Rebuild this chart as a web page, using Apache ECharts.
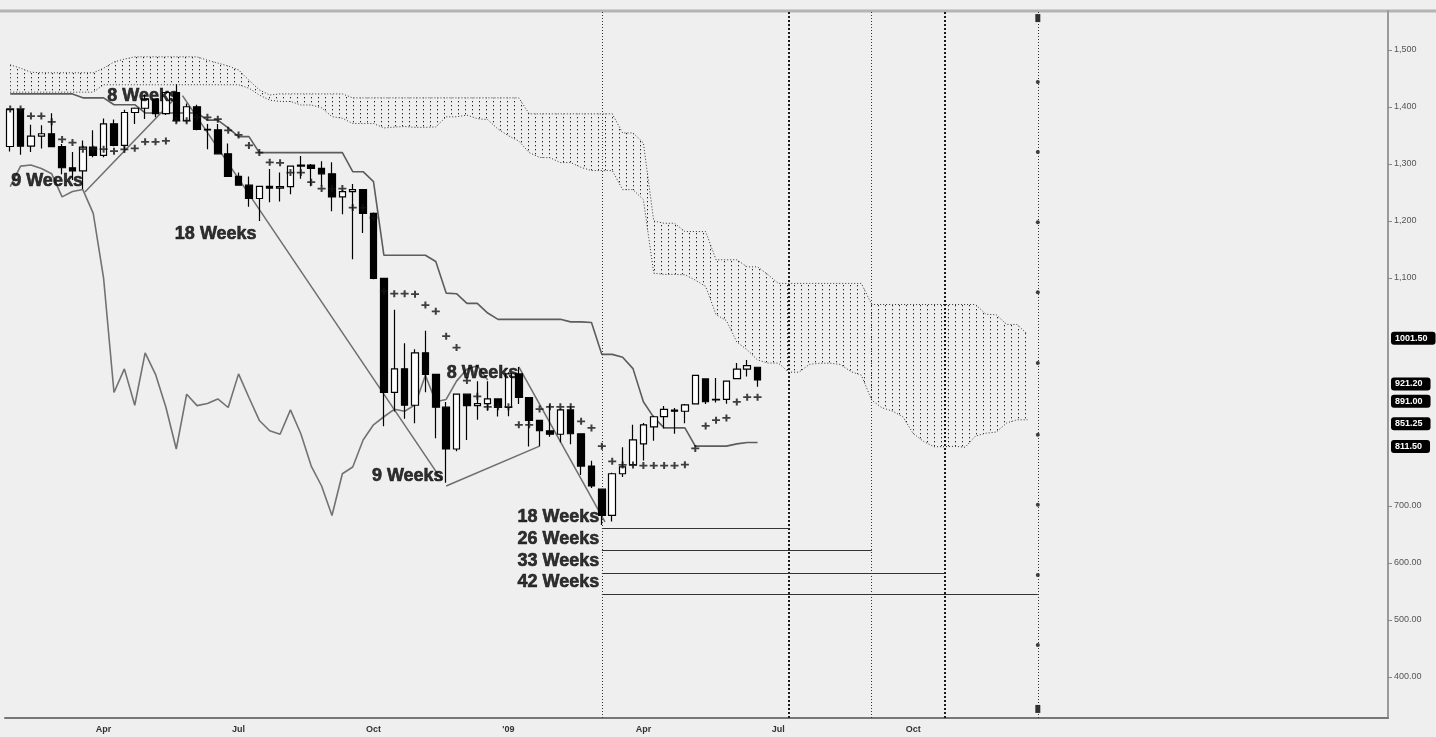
<!DOCTYPE html>
<html>
<head>
<meta charset="utf-8">
<script src="https://cdn.jsdelivr.net/npm/echarts@6/dist/echarts.min.js"></script>
<style>
html,body{margin:0;padding:0;background:#efefef;}
#c{width:1436px;height:737px;}
</style>
</head>
<body>
<div id="c"></div>
<script>
// ---- weekly candles, week 0 = week of 28 Jan 2008 ----
const opens = [1330.7,1395.4,1331.3,1349.0,1353.1,1330.6,1293.4,1288.1,1329.5,1315.2,
1370.4,1332.8,1390.3,1397.8,1413.9,1388.3,1425.4,1375.9,1400.4,1360.7,
1360.0,1317.9,1278.4,1262.9,1239.5,1260.7,1257.8,1260.3,1296.3,1298.2,
1292.2,1282.8,1242.3,1251.7,1255.1,1213.3,1099.2,899.2,940.6,876.8,
968.8,931.0,873.3,800.0,896.2,876.1,879.7,887.9,872.8,931.8,
890.4,850.1,832.0,825.9,868.6,826.8,770.0,729.6,683.4,756.6,
772.2,809.1,839.0,856.9,868.3,866.2,879.2,922.9,886.0,887.0,
923.3,940.1,943.4];
const highs = [1396.0,1396.0,1369.0,1368.0,1389.0,1335.0,1321.0,1341.0,1359.0,1380.0,
1378.0,1395.0,1399.0,1422.0,1415.0,1426.2,1440.0,1406.0,1404.0,1370.0,
1370.0,1336.0,1285.0,1278.0,1262.0,1291.0,1285.0,1297.0,1314.0,1300.0,
1305.0,1303.0,1255.0,1265.0,1256.0,1215.0,1099.2,1044.3,985.4,975.0,
1007.5,932.0,882.3,896.2,897.0,918.9,918.9,887.9,934.7,943.9,
890.4,851.0,877.9,870.6,875.0,827.0,779.4,729.6,758.3,803.0,
842.6,845.6,858.3,875.6,871.8,878.9,930.2,922.9,924.6,920.0,
951.0,956.2,943.4];
const lows = [1322.0,1316.0,1321.0,1327.0,1330.0,1282.0,1272.0,1256.0,1312.0,1312.0,
1331.0,1324.0,1370.0,1379.0,1382.0,1386.0,1373.0,1373.0,1359.0,1326.0,
1317.0,1278.0,1262.0,1225.0,1200.0,1233.0,1234.0,1247.0,1274.0,1261.0,
1262.0,1217.0,1212.0,1133.0,1179.0,1098.0,839.8,866.0,852.9,845.3,
899.7,818.7,741.0,796.0,815.7,851.4,867.0,857.1,857.3,878.8,
804.3,804.7,821.7,812.0,808.2,754.3,731.7,666.8,672.9,751.0,
772.0,779.8,814.5,836.0,826.8,845.1,878.9,878.9,881.6,879.6,
923.3,927.1,909.0];
const closes = [1395.4,1331.3,1349.0,1353.1,1330.6,1293.4,1288.1,1329.5,1315.2,1370.4,
1332.8,1390.3,1397.8,1413.9,1388.3,1425.4,1375.9,1400.4,1360.7,1360.0,
1317.9,1278.4,1262.9,1239.5,1260.7,1257.8,1260.3,1296.3,1298.2,1292.2,
1282.8,1242.3,1251.7,1255.1,1213.3,1099.2,899.2,940.6,876.8,968.8,
931.0,873.3,800.0,896.2,876.1,879.7,887.9,872.8,931.8,890.4,
850.1,832.0,825.9,868.6,826.8,770.0,735.1,683.4,756.6,768.5,
815.9,842.5,856.6,869.6,866.2,877.5,929.2,882.9,887.0,919.1,
940.1,946.2,921.2];

// ---- Ichimoku lines ----
const tenkan = [1396.5,1396.5,1384,1384,1374,1343,1337.5,1326,1326,1326,
1322.5,1325.5,1327.5,1339,1339,1340.5,1376,1376,1382,1382,
1378.5,1359,1351,1332.5,1320,1303,1302,1285,1285,1268,
1257,1257,1257,1223.5,1223.5,1206,1077,1072.5,1072.5,1071.5,
1052.5,1041.5,998,978,920,892.5,874,874,874,842.5,
842.5,870,874,874,874,848.5,837,805,778.5,772,
772,771,771,771,771,772.5,801,840.5,850.5,854.5,
882.5,891,891];
const kijun = [1423,1423,1423,1423,1423,1423,1423,1416,1416,1416,
1404,1404,1404,1389.5,1389.5,1389.5,1389.5,1389.5,1389.5,1377,
1377,1363.5,1348,1348,1320,1320,1320,1320,1320,1320,
1320,1320,1320,1286.5,1286.5,1269,1140,1140,1140,1140,
1140,1129,1073.5,1072.5,1055.5,1055.5,1038.5,1027.5,1027.5,1027.5,
1027.5,1027.5,1027.5,1027.5,1023,1023,1022,966,966,961,
941,883,855.5,837,837,837,805,805,805,805,
809,811.5,811.5];
const spanA = [1426,1426,1426,1426,1426,1426,1426,1426,1426,1439,
1439,1439,1439,1439,1439,1439,1439,1439,1439,1439,
1439,1439,1439,1433,1421,1412,1409.75,1409.75,1403.5,1403.5,
1398.5,1383,1380.25,1371,1371,1371,1363.25,1364.75,1365.75,1364.25,
1364.25,1365,1382.75,1382.75,1385.75,1379.5,1377.75,1361.25,1349.5,1340.25,
1320,1311.5,1311,1302.5,1302.5,1294,1288.5,1288.5,1288.5,1255,
1255,1237.5,1108.5,1106.25,1106.25,1105.75,1096.25,1085.25,1035.75,1025.25,
987.75,974,956.25,950.75,950.75,934.75,934.75,948.5,950.5,950.5,
948.25,935.75,929.5,885.5,872.25,866.5,856.5,827,813.25,804,
804,804.75,803,822.75,827.75,829.75,845.75,851.25,851.25];
const spanB = [1474,1468,1461,1460,1460,1460,1460,1460,1460,1468,
1479,1484,1488,1488,1488,1488,1488,1488,1488,1482,
1477,1472,1465,1447,1430,1421,1423,1423,1423,1423,
1423,1423,1423,1416,1416,1416,1416,1416,1416,1416,
1416,1416,1416,1416,1416,1416,1416,1416,1416,1416,
1388,1388,1388,1388,1388,1388,1388,1388,1388,1354.5,
1354.5,1337,1200,1196,1196,1181.5,1181.5,1181.5,1132,1132,
1132,1119.5,1119.5,1106,1090.5,1090.5,1090.5,1090.5,1090.5,1090.5,
1090.5,1090.5,1090.5,1053.5,1053.5,1053.5,1053.5,1053.5,1053.5,1053.5,
1053.5,1053.5,1053.5,1053.5,1036.5,1035.5,1018.5,1018.5,1001.5];
const chikouShift = 26;

// ---- axis labels ----
const quarterTicks = [9,22,35,48,61,74,87];
const quarterLabels = ['Apr','Jul','Oct',"'09",'Apr','Jul','Oct'];
const priceLabels = [400,500,600,700,1100,1200,1300,1400,1500];

// ---- cycle annotations ----
const lowIdx = 57;
const cycleWeeks = [18,26,33,42];
const cycleLevels = [661.5,623,582.6,545.6];
const cycleDots = [1444,1321,1198,1075,951,825,702,579,456];
const cycleEnds = [1556,344];
const trendLines = [
  [[7.2,1251],[15.7,1412]],
  [[16.6,1420],[41.6,745]],
  [[42.0,735],[51.0,805]],
  [[49.0,944],[57.3,672]]
];
const annotations = [
  [12.8,1419,'8 Weeks','center'],
  [3.55,1270,'9 Weeks','center'],
  [19.8,1177,'18 Weeks','center'],
  [45.5,933,'8 Weeks','center'],
  [38.3,753,'9 Weeks','center'],
  [56.8,681,'18 Weeks','right'],
  [56.8,642,'26 Weeks','right'],
  [56.8,604,'33 Weeks','right'],
  [56.8,567,'42 Weeks','right']
];

// ---- build ----
const font = "'Liberation Sans', Arial, sans-serif";
const pat = document.createElement('canvas');
pat.width = 7; pat.height = 4;
const pctx = pat.getContext('2d');
pctx.fillStyle = 'rgba(20,20,20,0.95)';
pctx.fillRect(3,1,1,1.3);

const last = a => a[a.length-1];
const boxValues = [last(spanB), last(closes), last(tenkan), last(spanA), last(kijun)];

function fmtPrice(v){
  if (v >= 1000) { const r = Math.round(v); return Math.floor(r/1000) + ',' + String(r%1000).padStart(3,'0'); }
  return v.toFixed(2);
}

const vStyleThin = {type:[1,2], width:1, color:'#333'};
const vStyleBold = {type:[2,2], width:2, color:'#1a1a1a'};
const markLines = [
  {xAxis: lowIdx, lineStyle: vStyleThin},
  {xAxis: lowIdx+cycleWeeks[0], lineStyle: vStyleBold},
  {xAxis: lowIdx+cycleWeeks[1], lineStyle: vStyleThin},
  {xAxis: lowIdx+cycleWeeks[2], lineStyle: vStyleBold},
  {xAxis: lowIdx+cycleWeeks[3], lineStyle: vStyleThin}
];
cycleWeeks.forEach((w,k)=>{
  markLines.push([{coord:[lowIdx, cycleLevels[k]], lineStyle:{type:'solid', width:1, color:'#333'}},{coord:[lowIdx+w, cycleLevels[k]]}]);
});
trendLines.forEach(t=>{
  markLines.push([{coord:t[0], lineStyle:{type:'solid', width:1.5, color:'#6e6e6e'}},{coord:t[1]}]);
});

const labelStyle = {show:true, fontSize:18, fontWeight:'bold', color:'#000', fontFamily:font, textBorderColor:'#000', textBorderWidth:0.6};

const chart = echarts.init(document.getElementById('c'), null, {renderer:'canvas'});
chart.setOption({
  animation:false,
  backgroundColor:'#efefef',
  textStyle:{fontFamily:font},
  graphic:[{type:'line', shape:{x1:0,y1:11,x2:1436,y2:11}, style:{stroke:'#b4b4b4', lineWidth:3}, z:-1}],
  grid:{left:5,right:48,top:11,bottom:19},
  xAxis:{
    type:'value', min:-0.501, max:132.736,
    axisLine:{show:true, onZero:false, lineStyle:{color:'#777', width:2}},
    axisTick:{show:false}, splitLine:{show:false},
    axisLabel:{customValues:quarterTicks, formatter:v=>{const k=quarterTicks.indexOf(v); return k>=0?quarterLabels[k]:'';}, fontSize:9, fontWeight:'bold', color:'#333', margin:7, fontFamily:font}
  },
  yAxis:{
    type:'value', position:'right', min:328.1, max:1568.4,
    axisLine:{show:true, onZero:false, lineStyle:{color:'#9a9a9a', width:2}},
    axisTick:{show:true, length:4, customValues:priceLabels, lineStyle:{color:'#888'}},
    splitLine:{show:false},
    axisLabel:{customValues:priceLabels, formatter:fmtPrice, fontSize:9, color:'#555', margin:6, fontFamily:font}
  },
  series:[
    {
      type:'custom', name:'cloud', silent:true, z:1, clip:true,
      data: spanA.map((a,j)=>[j,a,spanB[j]]),
      encode:{x:0, y:[1,2]},
      renderItem:(params, api)=>{
        if (params.dataIndex !== 0) return null;
        const n = spanA.length;
        const pts = [];
        for (let k=0;k<n;k++) pts.push(api.coord([api.value(0,k), api.value(2,k)]));
        for (let k=n-1;k>=0;k--) pts.push(api.coord([api.value(0,k), api.value(1,k)]));
        return {type:'polygon', shape:{points:pts}, style:{fill:{image:pat, repeat:'repeat'}, stroke:null}};
      }
    },
    {type:'line', name:'spanA', silent:true, z:2, symbol:'none', data: spanA.map((v,j)=>[j,v]), lineStyle:{color:'#333', width:1, type:[1,2]}},
    {type:'line', name:'spanB', silent:true, z:2, symbol:'none', data: spanB.map((v,j)=>[j,v]), lineStyle:{color:'#333', width:1, type:[1,2]}},
    {type:'line', name:'chikou', silent:true, z:3, symbol:'none', data: closes.slice(chikouShift).map((v,k)=>[k,v]), lineStyle:{color:'#727272', width:1.6}},
    {type:'line', name:'kijun', silent:true, z:3, symbol:'none', data: kijun.map((v,i)=>[i,v]), lineStyle:{color:'#5c5c5c', width:1.6}},
    {
      type:'scatter', name:'cycleDots', silent:true, z:4,
      data: cycleDots.map(v=>[lowIdx+cycleWeeks[3], v]),
      symbol:'circle', symbolSize:4, itemStyle:{color:'#111'},
      markLine:{silent:true, symbol:['none','none'], label:{show:false}, data: markLines}
    },
    {type:'scatter', name:'cycleEnds', silent:true, z:4, data: cycleEnds.map(v=>[lowIdx+cycleWeeks[3], v]), symbol:'rect', symbolSize:[5,8], itemStyle:{color:'#000'}},
    {
      type:'candlestick', name:'price', silent:true, z:5,
      data: opens.map((o,i)=>[i,o,closes[i],lows[i],highs[i]]),
      encode:{x:0, y:[1,2,3,4]},
      barWidth:7,
      itemStyle:{color:'#ffffff', color0:'#000000', borderColor:'#000', borderColor0:'#000', borderWidth:1.2},
      markLine:{
        silent:true, symbol:['none','none'],
        lineStyle:{color:'rgba(0,0,0,0)', width:1, type:'solid'},
        label:{show:true, position:'end', distance:3, color:'#fff', backgroundColor:'#000', fontSize:9, fontWeight:'bold', padding:[2,8,2,4], borderRadius:3, offset:[0,4], formatter:p=>Number(p.value).toFixed(2)},
        data: boxValues.map(v=>({yAxis:v}))
      }
    },
    {type:'scatter', name:'tenkan', silent:true, z:6, data: tenkan.map((v,i)=>[i,v]), symbol:'path://M3,0H5V3H8V5H5V8H3V5H0V3H3Z', symbolSize:[8,7], itemStyle:{color:'#111'}},
    {
      type:'scatter', name:'labels', silent:true, z:10, symbolSize:1, itemStyle:{color:'rgba(0,0,0,0)'},
      data: annotations.map(a=>({value:[a[0],a[1]], label:Object.assign({}, labelStyle, {formatter:a[2], position: a[3]==='right'?'left':'inside', distance:0})})),
      label:labelStyle
    }
  ]
});
</script>
</body>
</html>
